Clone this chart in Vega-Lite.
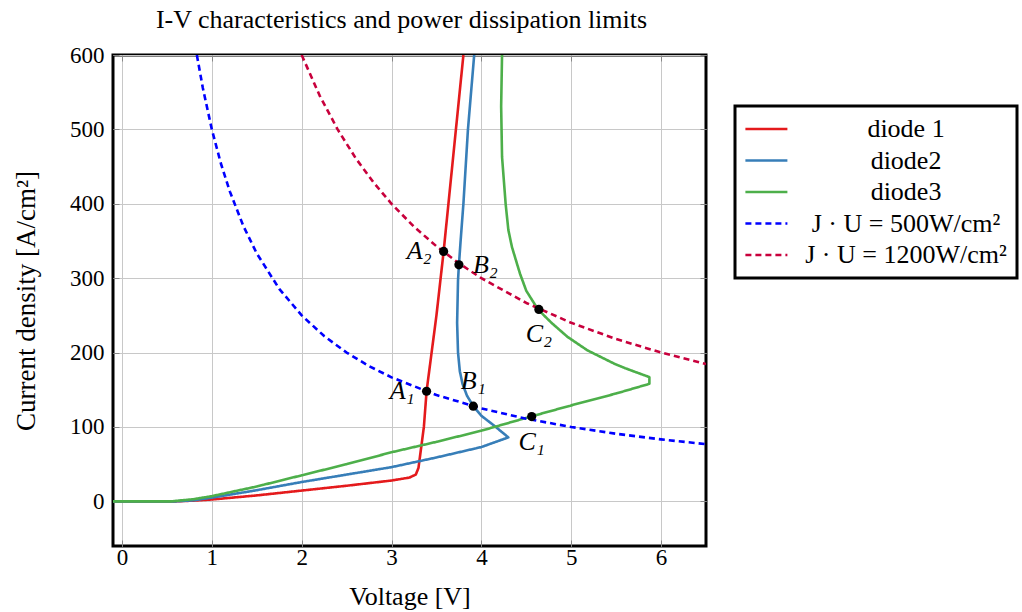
{
  "$schema": "https://vega.github.io/schema/vega-lite/v6.json",
  "width": 593,
  "height": 491,
  "autosize": {"type": "none"},
  "padding": {"left": 113, "top": 55, "right": 316, "bottom": 66},
  "background": "white",
  "title": {
    "text": "I-V characteristics and power dissipation limits",
    "font": "Liberation Serif",
    "fontSize": 26,
    "fontWeight": "normal",
    "color": "black",
    "anchor": "middle",
    "offset": 11,
    "dx": -8
  },
  "config": {
    "view": {"stroke": "black", "strokeWidth": 3},
    "legend": {"strokeWidth": 3},
    "axis": {
      "labelFont": "Liberation Serif",
      "labelFontSize": 23,
      "labelColor": "black",
      "titleFont": "Liberation Serif",
      "titleFontSize": 26,
      "titleFontWeight": "normal",
      "titleColor": "black",
      "gridColor": "#c8c8c8",
      "gridWidth": 1,
      "domain": false,
      "tickColor": "#888888",
      "tickWidth": 1
    }
  },
  "datasets": {
    "curves": [
      {"series": "diode 1", "i": 1, "U": -0.1, "J": 0},
      {"series": "diode 1", "i": 2, "U": 0.6, "J": 0},
      {"series": "diode 1", "i": 3, "U": 0.8, "J": 1},
      {"series": "diode 1", "i": 4, "U": 1.0, "J": 2.5},
      {"series": "diode 1", "i": 5, "U": 1.5, "J": 8},
      {"series": "diode 1", "i": 6, "U": 2.0, "J": 14.5},
      {"series": "diode 1", "i": 7, "U": 2.5, "J": 21},
      {"series": "diode 1", "i": 8, "U": 3.0, "J": 28},
      {"series": "diode 1", "i": 9, "U": 3.2, "J": 32},
      {"series": "diode 1", "i": 10, "U": 3.27, "J": 36},
      {"series": "diode 1", "i": 11, "U": 3.3, "J": 45},
      {"series": "diode 1", "i": 12, "U": 3.36, "J": 100},
      {"series": "diode 1", "i": 13, "U": 3.39, "J": 148},
      {"series": "diode 1", "i": 14, "U": 3.5, "J": 250},
      {"series": "diode 1", "i": 15, "U": 3.58, "J": 336},
      {"series": "diode 1", "i": 16, "U": 3.7, "J": 480},
      {"series": "diode 1", "i": 17, "U": 3.8, "J": 600},
      {"series": "diode2", "i": 1, "U": -0.1, "J": 0},
      {"series": "diode2", "i": 2, "U": 0.6, "J": 0},
      {"series": "diode2", "i": 3, "U": 0.8, "J": 1.5},
      {"series": "diode2", "i": 4, "U": 1.0, "J": 5},
      {"series": "diode2", "i": 5, "U": 1.5, "J": 15},
      {"series": "diode2", "i": 6, "U": 2.0, "J": 26},
      {"series": "diode2", "i": 7, "U": 2.5, "J": 36},
      {"series": "diode2", "i": 8, "U": 3.0, "J": 46},
      {"series": "diode2", "i": 9, "U": 3.5, "J": 59},
      {"series": "diode2", "i": 10, "U": 4.0, "J": 73},
      {"series": "diode2", "i": 11, "U": 4.3, "J": 86},
      {"series": "diode2", "i": 12, "U": 4.14, "J": 102},
      {"series": "diode2", "i": 13, "U": 4.0, "J": 115},
      {"series": "diode2", "i": 14, "U": 3.91, "J": 128},
      {"series": "diode2", "i": 15, "U": 3.84, "J": 142},
      {"series": "diode2", "i": 16, "U": 3.79, "J": 158},
      {"series": "diode2", "i": 17, "U": 3.76, "J": 175},
      {"series": "diode2", "i": 18, "U": 3.74, "J": 200},
      {"series": "diode2", "i": 19, "U": 3.73, "J": 240},
      {"series": "diode2", "i": 20, "U": 3.74, "J": 297},
      {"series": "diode2", "i": 21, "U": 3.75, "J": 318},
      {"series": "diode2", "i": 22, "U": 3.77, "J": 352},
      {"series": "diode2", "i": 23, "U": 3.8, "J": 400},
      {"series": "diode2", "i": 24, "U": 3.85, "J": 499},
      {"series": "diode2", "i": 25, "U": 3.92, "J": 600},
      {"series": "diode3", "i": 1, "U": -0.1, "J": 0},
      {"series": "diode3", "i": 2, "U": 0.55, "J": 0},
      {"series": "diode3", "i": 3, "U": 0.8, "J": 3},
      {"series": "diode3", "i": 4, "U": 1.0, "J": 7},
      {"series": "diode3", "i": 5, "U": 1.5, "J": 20},
      {"series": "diode3", "i": 6, "U": 2.0, "J": 35},
      {"series": "diode3", "i": 7, "U": 2.5, "J": 50},
      {"series": "diode3", "i": 8, "U": 3.0, "J": 66},
      {"series": "diode3", "i": 9, "U": 3.5, "J": 80},
      {"series": "diode3", "i": 10, "U": 4.0, "J": 95},
      {"series": "diode3", "i": 11, "U": 4.55, "J": 114},
      {"series": "diode3", "i": 12, "U": 5.0, "J": 129},
      {"series": "diode3", "i": 13, "U": 5.5, "J": 145},
      {"series": "diode3", "i": 14, "U": 5.87, "J": 158},
      {"series": "diode3", "i": 15, "U": 5.87, "J": 167},
      {"series": "diode3", "i": 16, "U": 5.6, "J": 179},
      {"series": "diode3", "i": 17, "U": 5.48, "J": 185},
      {"series": "diode3", "i": 18, "U": 5.18, "J": 203},
      {"series": "diode3", "i": 19, "U": 4.96, "J": 221},
      {"series": "diode3", "i": 20, "U": 4.78, "J": 240},
      {"series": "diode3", "i": 21, "U": 4.63, "J": 258},
      {"series": "diode3", "i": 22, "U": 4.5, "J": 283},
      {"series": "diode3", "i": 23, "U": 4.43, "J": 306},
      {"series": "diode3", "i": 24, "U": 4.34, "J": 342},
      {"series": "diode3", "i": 25, "U": 4.3, "J": 365},
      {"series": "diode3", "i": 26, "U": 4.27, "J": 400},
      {"series": "diode3", "i": 27, "U": 4.23, "J": 463},
      {"series": "diode3", "i": 28, "U": 4.22, "J": 531},
      {"series": "diode3", "i": 29, "U": 4.23, "J": 600},
      {"series": "J · U = 500W/cm²", "i": 1, "U": 0.8333, "J": 600},
      {"series": "J · U = 500W/cm²", "i": 2, "U": 0.9, "J": 555.6},
      {"series": "J · U = 500W/cm²", "i": 3, "U": 1.0, "J": 500},
      {"series": "J · U = 500W/cm²", "i": 4, "U": 1.1, "J": 454.5},
      {"series": "J · U = 500W/cm²", "i": 5, "U": 1.2, "J": 416.7},
      {"series": "J · U = 500W/cm²", "i": 6, "U": 1.35, "J": 370.4},
      {"series": "J · U = 500W/cm²", "i": 7, "U": 1.5, "J": 333.3},
      {"series": "J · U = 500W/cm²", "i": 8, "U": 1.75, "J": 285.7},
      {"series": "J · U = 500W/cm²", "i": 9, "U": 2.0, "J": 250},
      {"series": "J · U = 500W/cm²", "i": 10, "U": 2.25, "J": 222.2},
      {"series": "J · U = 500W/cm²", "i": 11, "U": 2.5, "J": 200},
      {"series": "J · U = 500W/cm²", "i": 12, "U": 2.75, "J": 181.8},
      {"series": "J · U = 500W/cm²", "i": 13, "U": 3.0, "J": 166.7},
      {"series": "J · U = 500W/cm²", "i": 14, "U": 3.5, "J": 142.9},
      {"series": "J · U = 500W/cm²", "i": 15, "U": 4.0, "J": 125},
      {"series": "J · U = 500W/cm²", "i": 16, "U": 4.5, "J": 111.1},
      {"series": "J · U = 500W/cm²", "i": 17, "U": 5.0, "J": 100},
      {"series": "J · U = 500W/cm²", "i": 18, "U": 5.5, "J": 90.9},
      {"series": "J · U = 500W/cm²", "i": 19, "U": 6.0, "J": 83.3},
      {"series": "J · U = 500W/cm²", "i": 20, "U": 6.5, "J": 76.9},
      {"series": "J · U = 1200W/cm²", "i": 1, "U": 2.0, "J": 600},
      {"series": "J · U = 1200W/cm²", "i": 2, "U": 2.2, "J": 545.5},
      {"series": "J · U = 1200W/cm²", "i": 3, "U": 2.4, "J": 500},
      {"series": "J · U = 1200W/cm²", "i": 4, "U": 2.6, "J": 461.5},
      {"series": "J · U = 1200W/cm²", "i": 5, "U": 2.8, "J": 428.6},
      {"series": "J · U = 1200W/cm²", "i": 6, "U": 3.0, "J": 400},
      {"series": "J · U = 1200W/cm²", "i": 7, "U": 3.25, "J": 369.2},
      {"series": "J · U = 1200W/cm²", "i": 8, "U": 3.5, "J": 342.9},
      {"series": "J · U = 1200W/cm²", "i": 9, "U": 3.75, "J": 320},
      {"series": "J · U = 1200W/cm²", "i": 10, "U": 4.0, "J": 300},
      {"series": "J · U = 1200W/cm²", "i": 11, "U": 4.5, "J": 266.7},
      {"series": "J · U = 1200W/cm²", "i": 12, "U": 5.0, "J": 240},
      {"series": "J · U = 1200W/cm²", "i": 13, "U": 5.5, "J": 218.2},
      {"series": "J · U = 1200W/cm²", "i": 14, "U": 6.0, "J": 200},
      {"series": "J · U = 1200W/cm²", "i": 15, "U": 6.5, "J": 184.6}
    ],
    "points": [
      {"label": "A₁", "U": 3.39, "J": 148},
      {"label": "A₂", "U": 3.58, "J": 336},
      {"label": "B₁", "U": 3.91, "J": 128},
      {"label": "B₂", "U": 3.75, "J": 318},
      {"label": "C₁", "U": 4.56, "J": 114},
      {"label": "C₂", "U": 4.64, "J": 258}
    ]
  },
  "resolve": {"axis": {"x": "independent", "y": "independent"}},
  "layer": [
    {
      "data": {"name": "curves"},
      "mark": {"type": "line", "clip": true, "strokeCap": "butt", "strokeJoin": "round"},
      "encoding": {
        "x": {
          "field": "U", "type": "quantitative",
          "scale": {"domain": [-0.1, 6.5], "nice": false, "zero": false},
          "axis": {"title": "Voltage [V]", "orient": "bottom", "values": [0, 1, 2, 3, 4, 5, 6], "format": "d", "tickSize": -6, "labelPadding": 6, "titlePadding": 14}
        },
        "y": {
          "field": "J", "type": "quantitative",
          "scale": {"domain": [-60, 600], "nice": false, "zero": false},
          "axis": {"title": "Current density [A/cm²]", "orient": "left", "values": [0, 100, 200, 300, 400, 500, 600], "format": "d", "tickSize": -6, "labelPadding": 15, "titlePadding": 29, "titleFontSize": 27}
        },
        "color": {
          "field": "series", "type": "nominal",
          "scale": {
            "domain": ["diode 1", "diode2", "diode3", "J · U = 500W/cm²", "J · U = 1200W/cm²"],
            "range": ["#e41a1c", "#377eb8", "#4daf4a", "#0000ff", "#c8003c"]
          },
          "legend": {
            "title": null,
            "orient": "none",
            "legendX": 622,
            "legendY": 51,
            "strokeColor": "black",
            "fillColor": "white",
            "padding": 10,
            "symbolType": "M-1.2,0H2.8",
            "symbolSize": 441,
            "symbolStrokeWidth": 2.5,
            "labelFont": "Liberation Serif",
            "labelFontSize": 26,
            "labelColor": "black",
            "labelAlign": "center",
            "labelOffset": 135,
            "labelLimit": 400,
            "rowPadding": 5.5
          }
        },
        "strokeDash": {
          "field": "series", "type": "nominal",
          "scale": {
            "domain": ["diode 1", "diode2", "diode3", "J · U = 500W/cm²", "J · U = 1200W/cm²"],
            "range": [[1, 0], [1, 0], [1, 0], [6, 4], [6, 4]]
          },
          "legend": {"title": null}
        },
        "strokeWidth": {
          "field": "series", "type": "nominal",
          "scale": {
            "domain": ["diode 1", "diode2", "diode3", "J · U = 500W/cm²", "J · U = 1200W/cm²"],
            "range": [2.6, 2.6, 2.6, 1.7, 1.7]
          },
          "legend": null
        },
        "order": {"field": "i", "type": "quantitative"}
      }
    },
    {
      "data": {"name": "points"},
      "mark": {"type": "circle", "size": 85, "color": "black", "opacity": 1},
      "encoding": {
        "x": {
          "field": "U", "type": "quantitative",
          "scale": {"domain": [-0.1, 6.5], "nice": false, "zero": false},
          "axis": {"orient": "top", "title": null, "labels": false, "grid": false, "values": [0, 1, 2, 3, 4, 5, 6], "tickSize": -6}
        },
        "y": {
          "field": "J", "type": "quantitative",
          "scale": {"domain": [-60, 600], "nice": false, "zero": false},
          "axis": {"orient": "right", "title": null, "labels": false, "grid": false, "values": [0, 100, 200, 300, 400, 500, 600], "tickSize": -6}
        }
      }
    },
    {
      "data": {"name": "points"},
      "transform": [{"filter": "datum.label == 'A₁' || datum.label == 'A₂'"}],
      "mark": {"type": "text", "font": "Liberation Serif", "fontStyle": "italic", "fontSize": 26, "align": "right", "baseline": "middle", "dx": -12, "color": "black"},
      "encoding": {
        "x": {"field": "U", "type": "quantitative", "axis": null},
        "y": {"field": "J", "type": "quantitative", "axis": null},
        "text": {"field": "label"}
      }
    },
    {
      "data": {"name": "points"},
      "transform": [{"filter": "datum.label == 'B₂'"}],
      "mark": {"type": "text", "font": "Liberation Serif", "fontStyle": "italic", "fontSize": 26, "align": "left", "baseline": "middle", "dx": 14, "color": "black"},
      "encoding": {
        "x": {"field": "U", "type": "quantitative", "axis": null},
        "y": {"field": "J", "type": "quantitative", "axis": null},
        "text": {"field": "label"}
      }
    },
    {
      "data": {"name": "points"},
      "transform": [{"filter": "datum.label == 'B₁'"}],
      "mark": {"type": "text", "font": "Liberation Serif", "fontStyle": "italic", "fontSize": 26, "align": "center", "baseline": "middle", "dy": -25, "color": "black"},
      "encoding": {
        "x": {"field": "U", "type": "quantitative", "axis": null},
        "y": {"field": "J", "type": "quantitative", "axis": null},
        "text": {"field": "label"}
      }
    },
    {
      "data": {"name": "points"},
      "transform": [{"filter": "datum.label == 'C₁' || datum.label == 'C₂'"}],
      "mark": {"type": "text", "font": "Liberation Serif", "fontStyle": "italic", "fontSize": 26, "align": "center", "baseline": "middle", "dy": 25, "color": "black"},
      "encoding": {
        "x": {"field": "U", "type": "quantitative", "axis": null},
        "y": {"field": "J", "type": "quantitative", "axis": null},
        "text": {"field": "label"}
      }
    }
  ]
}
